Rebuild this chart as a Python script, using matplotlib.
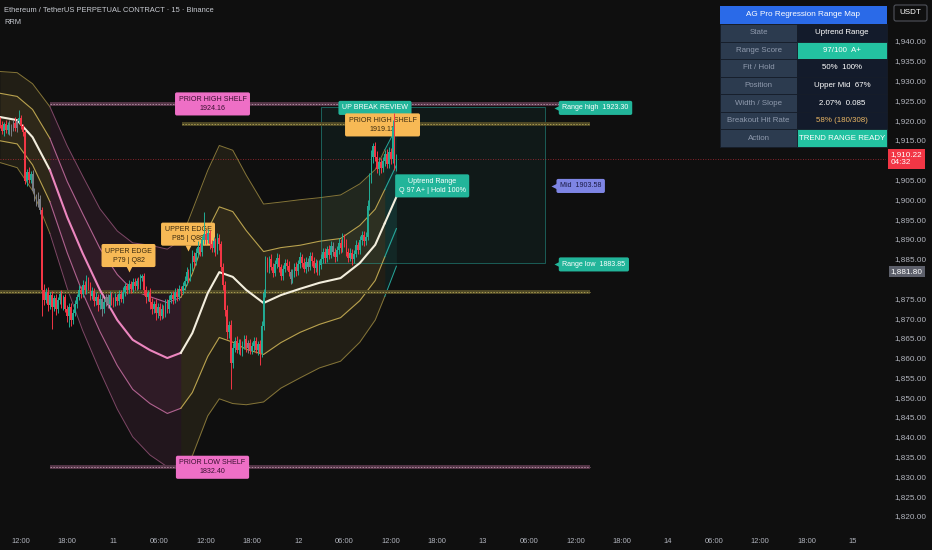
import numpy as np
import matplotlib.pyplot as plt
from matplotlib.patches import Rectangle, FancyBboxPatch

plt.rcParams['font.family'] = ['Liberation Sans', 'DejaVu Sans']

BG = '#0f0f0f'
UP = '#22ab94'
DN = '#f23645'
GREY = '#7b7e87'

# ---- candles: 15 min bars, time in hours from the 10th 00:00 ----
first_bar = 9.25
first_open = 1920.0
closes = [
    1918.8, 1917.2, 1919.0,
    1917.6, 1918.9, 1916.9, 1918.2,
    1919.3, 1918.0, 1919.8, 1920.6,
    1918.4, 1917.0, 1904.6, 1906.8,
    1905.0, 1906.4, 1902.2, 1900.4,
    1899.0, 1900.2, 1897.4, 1877.0,
    1874.6, 1876.6, 1873.4, 1875.8,
    1872.8, 1875.0, 1872.2, 1874.6,
    1876.0, 1873.4, 1875.2, 1872.4,
    1870.6, 1872.8, 1869.4, 1871.2,
    1873.6, 1875.4, 1877.2, 1876.0,
    1878.4, 1877.0, 1879.6, 1878.2,
    1875.6, 1876.8, 1874.2, 1875.4,
    1873.2, 1874.8, 1872.4, 1874.0,
    1875.2, 1873.6, 1875.8, 1874.4,
    1873.8, 1875.4, 1874.2, 1876.0,
    1874.8, 1876.6, 1878.0, 1877.2,
    1878.6, 1877.4, 1879.2, 1878.0,
    1879.4, 1878.2, 1880.0, 1880.6,
    1877.0, 1875.2, 1876.4, 1874.0,
    1872.4, 1873.6, 1871.2, 1872.8,
    1870.6, 1872.4, 1871.0, 1873.8,
    1872.2, 1874.6, 1875.8, 1874.8,
    1876.6, 1875.4, 1877.4, 1876.8,
    1878.0, 1879.4, 1881.6, 1880.4,
    1882.8, 1885.6, 1884.2, 1886.4,
    1888.0, 1886.8, 1889.6, 1891.2,
    1889.8, 1891.4, 1888.6, 1887.6,
    1889.4, 1887.0, 1890.2, 1888.6,
    1883.0, 1878.4, 1872.0, 1866.4,
    1868.2, 1858.6, 1862.4, 1864.2,
    1862.0, 1863.8, 1861.6, 1863.2,
    1864.6, 1862.4, 1863.6, 1861.8,
    1863.0, 1864.2, 1862.0, 1863.4,
    1861.2, 1868.0, 1876.4, 1884.2,
    1882.6, 1884.8, 1883.0, 1881.4,
    1883.6, 1885.2, 1882.8, 1880.6,
    1882.4, 1884.0, 1883.2, 1881.6,
    1879.8, 1881.2, 1883.0, 1881.8,
    1883.6, 1885.4, 1884.0, 1882.4,
    1884.2, 1883.0, 1885.6, 1884.4,
    1882.6, 1883.8, 1882.0, 1883.4,
    1885.0, 1886.6, 1885.2, 1887.4,
    1886.0, 1888.2, 1886.8, 1885.4,
    1887.2, 1889.0, 1887.6, 1890.2,
    1889.0, 1886.8, 1885.2, 1886.4,
    1884.8, 1886.2, 1888.4, 1887.2,
    1889.6, 1891.0, 1889.4, 1890.6,
    1898.4, 1905.0, 1910.6, 1913.4,
    1910.8, 1907.6, 1909.4, 1907.8,
    1909.6, 1911.4, 1909.0, 1912.0,
    1910.2, 1918.2, 1908.4, 1910.22,
]
wick_up = [
    0.8, 1.0, 0.6,
    1.0, 0.6, 1.2, 0.8,
    0.7, 1.4, 0.6, 2.0,
    0.8, 0.6, 0.5, 0.9,
    1.4, 0.8, 1.0, 0.6,
    0.9, 1.6, 0.8, 0.7,
    1.6, 0.9, 1.2, 0.8,
    1.0, 0.8, 1.2, 0.7,
    0.9, 1.2, 0.7, 1.0,
    0.8, 0.9, 1.0, 1.2,
    1.0, 0.8, 1.2, 0.9,
    1.2, 0.9, 1.4, 0.7,
    0.8, 1.0, 0.7, 1.1,
    0.7, 1.2, 0.9, 0.8,
    1.0, 0.8, 1.1, 0.7,
    0.9, 1.0, 0.8, 1.2,
    1.0, 1.2, 0.9, 0.8,
    1.1, 0.8, 1.0, 0.9,
    0.8, 1.0, 1.2, 0.6,
    0.9, 1.0, 0.8, 1.1,
    1.0, 0.8, 1.2, 0.9,
    0.9, 1.1, 0.8, 1.0,
    1.0, 1.2, 0.9, 1.1,
    1.1, 0.9, 1.0, 0.8,
    1.0, 1.2, 1.4, 0.9,
    1.2, 1.6, 1.0, 1.4,
    1.4, 1.0, 1.2, 5.6,
    1.0, 1.2, 0.9, 1.0,
    1.0, 0.9, 1.2, 1.1,
    0.8, 1.0, 0.9, 1.2,
    1.0, 1.2, 1.4, 1.0,
    1.2, 0.9, 1.0, 1.1,
    1.0, 1.2, 0.8, 1.0,
    0.9, 1.0, 1.1, 0.8,
    1.0, 1.2, 1.0, 1.4,
    1.2, 1.0, 1.4, 0.9,
    1.0, 1.3, 1.1, 0.9,
    1.1, 1.0, 0.9, 1.2,
    0.9, 1.1, 1.0, 1.2,
    1.0, 1.2, 0.9, 1.1,
    1.1, 0.9, 1.2, 1.0,
    1.0, 1.1, 0.9, 1.2,
    1.2, 1.0, 1.1, 0.9,
    1.0, 1.3, 1.1, 0.9,
    1.0, 1.2, 0.9, 1.4,
    1.1, 0.9, 1.0, 1.2,
    1.0, 1.1, 1.2, 0.9,
    1.2, 1.0, 0.9, 1.1,
    1.4, 1.6, 1.8, 0.8,
    1.0, 1.4, 1.2, 1.0,
    1.2, 1.0, 1.4, 1.1,
    1.0, 1.8, 3.6, 1.2,
]
wick_dn = [
    0.9, 0.7, 1.1,
    0.8, 1.1, 0.6, 0.9,
    1.0, 0.8, 0.9, 0.6,
    0.7, 0.9, 0.8, 1.2,
    0.8, 1.0, 0.7, 0.9,
    0.7, 0.9, 1.0, 6.5,
    1.4, 0.8, 1.6, 1.2,
    5.6, 1.0, 1.4, 0.8,
    1.1, 0.8, 1.3, 0.9,
    1.6, 2.8, 1.4, 1.0,
    0.7, 1.1, 0.8, 1.0,
    0.8, 1.0, 0.9, 1.1,
    1.0, 0.8, 1.2, 0.9,
    1.4, 0.9, 1.8, 1.0,
    0.9, 1.1, 0.8, 1.0,
    1.1, 0.7, 1.0, 0.8,
    0.8, 0.9, 1.0, 1.1,
    0.9, 1.0, 0.8, 1.0,
    1.0, 0.8, 0.9, 0.7,
    1.2, 1.4, 1.0, 1.6,
    1.4, 1.0, 1.6, 1.1,
    1.2, 0.9, 1.0, 0.8,
    0.8, 1.0, 0.9, 1.2,
    0.9, 1.0, 0.8, 1.1,
    0.8, 0.9, 1.0, 1.2,
    1.0, 0.8, 1.2, 0.9,
    0.9, 1.2, 1.0, 0.8,
    1.1, 0.9, 1.2, 1.0,
    0.8, 1.2, 0.9, 1.4,
    1.2, 1.4, 1.6, 1.8,
    1.4, 6.6, 1.2, 0.9,
    0.8, 1.0, 0.9, 1.2,
    1.1, 0.9, 1.2, 0.8,
    1.0, 1.2, 0.9, 1.4,
    3.0, 1.0, 0.9, 1.0,
    1.0, 1.2, 0.8, 1.1,
    0.9, 1.0, 1.2, 1.0,
    1.0, 0.8, 1.1, 0.9,
    1.2, 1.0, 0.9, 1.1,
    0.9, 1.0, 1.2, 0.8,
    1.0, 1.1, 0.9, 1.2,
    1.2, 0.9, 1.0, 1.1,
    0.9, 1.0, 1.2, 1.0,
    1.1, 0.9, 1.0, 1.2,
    0.9, 1.0, 1.2, 0.8,
    1.0, 1.2, 1.1, 0.9,
    1.3, 1.0, 0.9, 1.1,
    1.0, 1.1, 1.2, 0.9,
    1.0, 1.2, 1.0, 1.4,
    1.2, 1.0, 1.4, 1.2,
    1.0, 1.3, 1.0, 1.2,
    1.2, 1.0, 1.0, 1.2,
]
neutral_hours = [10.5, 10.75, 11.0, 11.5, 13.5, 13.75, 14.0, 14.25, 14.5,
                 22.5, 23.0, 23.25, 41.5, 47.0, 49.25, 52.5]

# ---- regression bands (read at nodes) ----
band_hours = [9.25, 11.5, 13.5, 15.75, 18, 20, 22.25, 24.5, 26.5, 28.75, 31, 32.75, 34.25,
              36.25, 37.75, 39.5, 41.25, 43.5, 45.75, 48.25, 50.75, 53.5, 56, 58, 59.25, 60.75]
band_mid = [1920.8, 1920.0, 1915.7, 1907.4, 1895.5, 1886.4, 1877.1, 1869.5, 1864.5, 1861.9,
            1859.9, 1861.2, 1866.2, 1876.3, 1881.6, 1880.4, 1877.1, 1873.8, 1875.8, 1877.4,
            1878.9, 1880.1, 1883.9, 1888.5, 1894.0, 1900.6]
inner_w = [6, 6, 7, 8, 9, 10, 10.5, 11.5, 12.5, 13.5, 14, 14, 15, 16, 16.5, 16.5, 15, 13,
           12, 11, 10.5, 10, 9.5, 9, 8.5, 8]
outer_w = [11.5, 12, 13.5, 16, 18, 19.5, 20.5, 22.5, 24.5, 26.5, 27.5, 28.5, 31, 31, 32, 32,
           29, 25, 23.5, 22.5, 21.5, 21, 20, 19, 18.5, 17.5]
seg_bounds = [0, 3, 11, 24, 25]
seg_style = ['up', 'down', 'up', 'box']

# ---- levels ----
prior_high = 1924.16
prior_high2 = 1919.12
prior_low = 1832.40
mid_shelf = 1876.6
range_high = 1923.30
range_mid = 1903.58
range_low = 1883.85
range_start, range_end = 50.96, 80.05
last_price = 1910.22
marker_price = 1881.80

tick_hours = [12, 18, 24, 30, 36, 42, 48, 54, 60, 66, 72, 78, 84, 90, 96, 102, 108, 114, 120]
tick_labels = ['12:00', '18:00', '11', '06:00', '12:00', '18:00', '12', '06:00', '12:00',
               '18:00', '13', '06:00', '12:00', '18:00', '14', '06:00', '12:00', '18:00', '15']
# 1,945 / 1,910 / 1,880 sit under the USDT and price boxes
price_ticks = [p for p in range(1820, 1945, 5) if p not in (1910, 1880)]

table_rows = [('State', 'Uptrend Range'), ('Range Score', '97/100  A+'),
              ('Fit / Hold', '50%  100%'), ('Position', 'Upper Mid  67%'),
              ('Width / Slope', '2.07%  0.085'), ('Breakout Hit Rate', '58% (180/308)'),
              ('Action', 'TREND RANGE READY')]

fig = plt.figure(figsize=(9.32, 5.5), dpi=100, facecolor=BG)
ax = fig.add_axes([0, 20 / 550, 886 / 932, 530 / 550])
ax.set_facecolor(BG)
ax.set_xlim(9.27, 124.34)
ax.set_ylim(1816.45, 1950.36)
for s in ax.spines.values():
    s.set_visible(False)
ax.yaxis.tick_right()
ax.set_yticks(price_ticks)
ax.set_yticklabels([f'{v:,.2f}' for v in price_ticks])
ax.tick_params(axis='y', length=0, pad=6, labelsize=5.9, labelcolor='#b2b5be')
ax.set_xticks(tick_hours)
ax.set_xticklabels(tick_labels)
ax.tick_params(axis='x', length=0, pad=6, labelsize=5.4, labelcolor='#b2b5be')

# bands
palette = {
    'up': dict(fill='#c9a94e', mid='#f3eedd', inner='#b9a24e', outer='#857538'),
    'down': dict(fill='#cc5c9c', mid='#ec86bf', inner='#b0628f', outer='#7e4766'),
    'box': dict(fill='#26a69a', mid='#f3eedd', inner='#26a69a', outer='#26a69a'),
}
bh = np.array(band_hours)
mid = np.array(band_mid)
wi = np.array(inner_w)
wo = np.array(outer_w)
for a, b, style in zip(seg_bounds[:-1], seg_bounds[1:], seg_style):
    sl = slice(a, b + 1)
    col = palette[style]
    ax.fill_between(bh[sl], (mid - wo)[sl], (mid + wo)[sl], color=col['fill'], alpha=0.10, lw=0, zorder=1)
    ax.fill_between(bh[sl], (mid - wi)[sl], (mid + wi)[sl], color=col['fill'], alpha=0.08, lw=0, zorder=1)
    ax.plot(bh[sl], (mid + wo)[sl], color=col['outer'], lw=0.7, zorder=2)
    ax.plot(bh[sl], (mid - wo)[sl], color=col['outer'], lw=0.7, zorder=2)
    ax.plot(bh[sl], (mid + wi)[sl], color=col['inner'], lw=0.8, zorder=2)
    ax.plot(bh[sl], (mid - wi)[sl], color=col['inner'], lw=0.8, zorder=2)
    ax.plot(bh[sl], mid[sl], color=col['mid'], lw=1.5, zorder=3)

# range box
ax.add_patch(Rectangle((range_start, range_low), range_end - range_start, range_high - range_low,
                       fc='#26a69a', ec='none', alpha=0.07, zorder=1))
ax.add_patch(Rectangle((range_start, range_low), range_end - range_start, range_high - range_low,
                       fc='none', ec='#26a69a', lw=0.6, alpha=0.6, zorder=2))


def shelf(y, x0, x1, base, dash):
    ax.plot([x0, x1], [y, y], color=base, lw=2.8, zorder=2, solid_capstyle='butt')
    ax.plot([x0, x1], [y, y], color=dash, lw=0.7, ls=(0, (1.5, 1.5)), zorder=2)


shelf(prior_high, 15.77, 85.9, '#553648', '#b08aa0')
shelf(prior_low, 15.77, 85.9, '#553648', '#b08aa0')
shelf(prior_high2, 32.9, 85.9, '#4f4926', '#a89a50')
shelf(mid_shelf, 9.27, 85.9, '#4f4926', '#a89a50')
ax.axhline(last_price, color=DN, lw=0.6, ls=(0, (1, 2)), alpha=0.7, zorder=2)


def tag(x, y, s, fc, tc, z=5, ha='center'):
    ax.text(x, y, s, ha=ha, va='center', fontsize=5.1, color=tc, linespacing=1.4, zorder=z,
            bbox=dict(boxstyle='round,pad=0.5,rounding_size=0.25', fc=fc, ec='none'))


PINK = '#ee6fc6'
ORANGE = '#f7b955'
TEAL = '#22b59a'
tag(36.87, 1924.1, 'PRIOR HIGH SHELF\n1924.16', PINK, '#3a1030')
tag(36.87, 1832.3, 'PRIOR LOW SHELF\n1832.40', PINK, '#3a1030')
tag(57.97, 1923.1, 'UP BREAK REVIEW', TEAL, 'white', z=4)
tag(58.95, 1918.8, 'PRIOR HIGH SHELF\n1919.12', ORANGE, '#3a2a10')
tag(65.4, 1903.4, 'Uptrend Range\nQ 97 A+ | Hold 100%', TEAL, 'white', z=7)
tag(25.96, 1885.8, 'UPPER EDGE\nP79 | Q82', ORANGE, '#3a2a10')
ax.plot(25.96, 1882.3, marker='v', ms=4, color=ORANGE, zorder=5, mec='none')
tag(33.69, 1891.2, 'UPPER EDGE\nP85 | Q88', ORANGE, '#3a2a10')
ax.plot(33.69, 1887.7, marker='v', ms=4, color=ORANGE, zorder=5, mec='none')

tag(82.3, range_high - 0.2, f'Range high  {range_high:.2f}', TEAL, 'white', ha='left')
ax.plot(81.55, range_high - 0.2, marker='<', ms=5, color=TEAL, mec='none', zorder=5)
tag(82.0, range_mid - 0.2, f'Mid  {range_mid:.2f}', '#7e85e4', '#1a1a45', ha='left')
ax.plot(81.25, range_mid - 0.2, marker='<', ms=5, color='#7e85e4', mec='none', zorder=5)
tag(82.3, range_low - 0.3, f'Range low  {range_low:.2f}', TEAL, 'white', ha='left')
ax.plot(81.55, range_low - 0.3, marker='<', ms=5, color=TEAL, mec='none', zorder=5)

# candles
c = np.array(closes)
t = first_bar + 0.25 * np.arange(len(c))
o = np.concatenate([[first_open], c[:-1]])
hi = np.maximum(o, c) + np.array(wick_up)
lo = np.minimum(o, c) - np.array(wick_dn)
cols = np.where(c >= o, UP, DN).astype(object)
cols[np.isin(np.round(t, 2), neutral_hours)] = GREY
ax.vlines(t, lo, hi, colors=list(cols), lw=0.7, zorder=6)
ax.bar(t, np.maximum(np.abs(c - o), 0.2), bottom=np.minimum(o, c), width=0.21,
       color=list(cols), lw=0, zorder=6)

# price axis boxes
ax.annotate(f'{last_price:,.2f}\n04:32', xy=(1, last_price), xycoords=('axes fraction', 'data'),
            xytext=(3.5, 0), textcoords='offset points', ha='left', va='center', fontsize=5.9,
            color='white', linespacing=1.2, zorder=20, annotation_clip=False,
            bbox=dict(boxstyle='square,pad=0.3', fc=DN, ec='none'))
ax.annotate(f'{marker_price:,.2f}', xy=(1, marker_price), xycoords=('axes fraction', 'data'),
            xytext=(3.5, 0), textcoords='offset points', ha='left', va='center', fontsize=5.9,
            color='white', zorder=20, annotation_clip=False,
            bbox=dict(boxstyle='square,pad=0.25', fc='#5d606b', ec='none'))

# overlay in pixel units
ov = fig.add_axes([0, 0, 1, 1])
ov.set_xlim(0, 932)
ov.set_ylim(550, 0)
ov.axis('off')
ov.patch.set_alpha(0)

ov.text(4, 10, 'Ethereum / TetherUS PERPETUAL CONTRACT · 15 · Binance', fontsize=5.4,
        color='#c8cbd2', va='center')
ov.text(4, 22, 'RRM', fontsize=5.4, color='#c8cbd2', va='center')

ov.add_patch(FancyBboxPatch((894, 5), 33, 16, boxstyle='round,pad=0,rounding_size=2',
                            fc=BG, ec='#50535b', lw=0.8))
ov.text(910.5, 13, 'USDT', fontsize=5.8, color='white', ha='center', va='center')

# table
x0, x1, x2 = 720, 797, 887
ov.add_patch(Rectangle((x0, 6), x2 - x0, 18, fc='#2a6ae8', ec='none'))
ov.text((x0 + x2) / 2, 15, 'AG Pro Regression Range Map', fontsize=5.9, color='white',
        ha='center', va='center')
rh = 17.57
for i, (lab, val) in enumerate(table_rows):
    y = 24 + i * rh
    vbg = '#131b2b'
    vcol = 'white'
    if lab in ('Range Score', 'Action'):
        vbg = '#23c2a1'
    if lab == 'Breakout Hit Rate':
        vcol = '#e8b563'
    ov.add_patch(Rectangle((x0, y), x1 - x0, rh, fc='#2c3b4f', ec='#161d29', lw=0.6))
    ov.add_patch(Rectangle((x1, y), x2 - x1, rh, fc=vbg, ec='#161d29', lw=0.6))
    ov.text((x0 + x1) / 2, y + rh / 2, lab, fontsize=5.7, color='#8f9aad', ha='center', va='center')
    ov.text((x1 + x2) / 2, y + rh / 2, val, fontsize=5.7, color=vcol, ha='center', va='center')

fig.savefig('out.png', dpi=100, facecolor=BG)
